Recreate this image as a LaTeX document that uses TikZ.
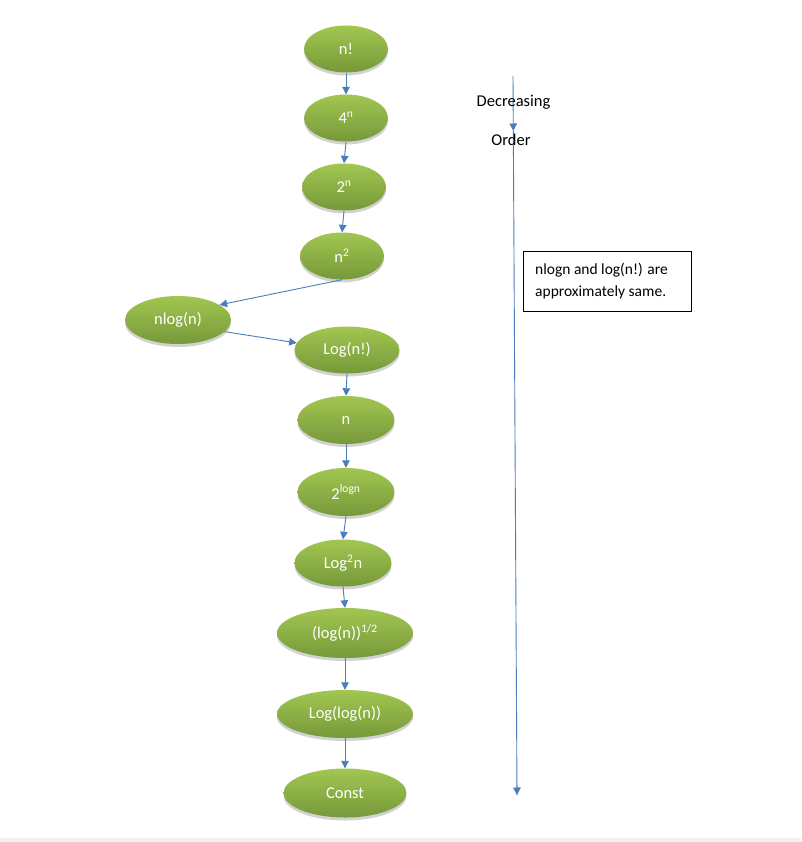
\documentclass[tikz,border=0pt]{standalone}
\usepackage{fontspec}
\setmainfont{Carlito}
\usetikzlibrary{shapes.geometric,arrows.meta,shadows,calc}
\definecolor{gtop}{HTML}{A2C651}
\definecolor{gbot}{HTML}{76993A}
\definecolor{arr}{HTML}{4A7EBB}
\tikzset{
  oval/.style={ellipse, inner sep=0pt, top color=gtop, bottom color=gbot, draw=none,
    text=white, font=\fontsize{16.5}{18}\selectfont,
    drop shadow={shadow xshift=0pt, shadow yshift=-3pt, fill=black!35, opacity=0.5}},
  conn/.style={draw=arr, line width=0.9pt, -{Triangle[length=7.5pt,width=7.5pt]}},
  lbl/.style={font=\fontsize{16.5}{18}\selectfont, text=black, inner sep=0pt},
  boxlbl/.style={font=\fontsize{15.5}{17}\selectfont, text=black, inner sep=0pt}
}
\begin{document}
\begin{tikzpicture}[x=1pt,y=-1pt]
\useasboundingbox (0,0) rectangle (801,842);
\fill[white] (0,0) rectangle (801,842);
\fill[black!6] (0,838) rectangle (801,842);
% nodes
\node[oval, minimum width=84pt, minimum height=47pt] (nf) at (346,49) {n!};
\node[oval, minimum width=84pt, minimum height=47pt] (f4) at (346,118) {4\textsuperscript{n}};
\node[oval, minimum width=84pt, minimum height=47pt] (t2) at (344,187) {2\textsuperscript{n}};
\node[oval, minimum width=84pt, minimum height=47pt] (n2) at (342,256) {n\textsuperscript{2}};
\node[oval, minimum width=106pt, minimum height=48pt] (nl) at (178,320) {nlog(n)};
\node[oval, minimum width=105pt, minimum height=47pt] (lf) at (347,350) {Log(n!)};
\node[oval, minimum width=97pt, minimum height=48pt] (nn) at (346,420) {n};
\node[oval, minimum width=97pt, minimum height=48pt] (tl) at (346,492) {2\textsuperscript{logn}};
\node[oval, minimum width=97pt, minimum height=47pt] (l2) at (343,563) {Log\textsuperscript{2}n};
\node[oval, minimum width=136pt, minimum height=50pt] (sq) at (345,633) {(log(n))\textsuperscript{1/2}};
\node[oval, minimum width=136pt, minimum height=48pt] (ll) at (345,714) {Log(log(n))};
\node[oval, minimum width=123pt, minimum height=49pt] (cs) at (345,793) {Const};
% connectors
\draw[conn] (nf.south) -- (f4.north);
\draw[conn] (f4.south) -- (t2.north);
\draw[conn] (t2.south) -- (n2.north);
\draw[conn] (n2.south) -- (nl.20);
\draw[conn] (nl.-14) -- (lf.172);
\draw[conn] (lf.south) -- (nn.north);
\draw[conn] (nn.south) -- (tl.north);
\draw[conn] (tl.south) -- (l2.north);
\draw[conn] (l2.south) -- (sq.north);
\draw[conn] (sq.south) -- (ll.north);
\draw[conn] (ll.south) -- (cs.north);
% decreasing order arrow
\coordinate (dtop) at (513,76);
\coordinate (dmid) at (513.3,131);
\coordinate (dbot) at (517,795);
\coordinate (dpre) at (516.9,785);
\draw[conn] (dtop) -- (dmid);
\draw[draw=arr, line width=0.9pt] (dmid) -- (dbot);
\draw[conn] (dpre) -- (dbot);
\node[lbl] (dec) at (513.5,102) {Decreasing};
\node[lbl] (ord) at (511,140) {Order};
% note box
\node[draw=black, line width=0.8pt, minimum width=168pt, minimum height=60pt, inner sep=0pt] (box) at (607,281) {};
\node[boxlbl, anchor=west, align=left] (boxt) at (535,281) {nlogn and log(n!) are\\[5pt]approximately same.};
\end{tikzpicture}
\end{document}
